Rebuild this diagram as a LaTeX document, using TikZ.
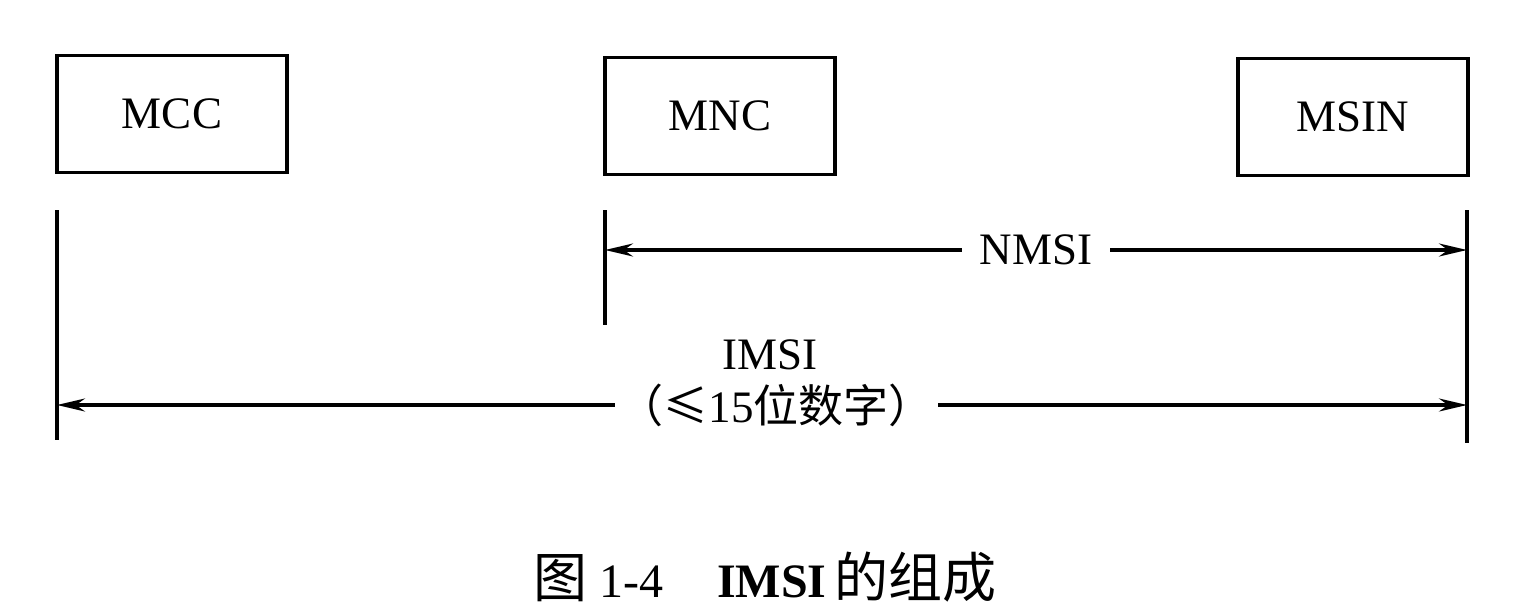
\documentclass[tikz,border=0pt]{standalone}
\usepackage{fontspec}
\setmainfont{Liberation Serif}
\newfontfamily\cjk{Noto Sans CJK SC}
\usetikzlibrary{arrows.meta}
\tikzset{
    field-box/.style = {draw, line width=3.5pt, rectangle, minimum width=230pt, minimum height=117pt, font=\fontsize{45}{50}\selectfont},
    limit-line/.style = {line width=3.2pt},
    span-arrow/.style = {line width=3.2pt, {Stealth[length=28pt,width=13pt]}-{Stealth[length=28pt,width=13pt]}},
    span-label/.style = {fill=white, inner xsep=18pt, inner ysep=2pt, font=\fontsize{45}{50}\selectfont},
}

\begin{document}
\begin{tikzpicture}[x=1pt, y=-1pt]
\useasboundingbox (0,0) rectangle (1536,615);
% the three fields
\node [field-box] (mcc) at (172,114) {MCC};
\node [field-box] (mnc) at (720,116) {MNC};
\node [field-box] (msin) at (1353,117) {MSIN};

% limits of the spans
\coordinate (mcc-top) at (57,210);
\coordinate (mcc-bottom) at (57,440);
\coordinate (mnc-top) at (605,210);
\coordinate (mnc-bottom) at (605,325);
\coordinate (msin-top) at (1467,210);
\coordinate (msin-bottom) at (1467,443);
\draw [limit-line] (mcc-top) -- (mcc-bottom);
\draw [limit-line] (mnc-top) -- (mnc-bottom);
\draw [limit-line] (msin-top) -- (msin-bottom);

% NMSI and IMSI spans
\coordinate (nmsi-left) at (605,250);
\coordinate (nmsi-right) at (1467,250);
\draw [span-arrow] (nmsi-left) -- node [span-label] (nmsi) {NMSI} (nmsi-right);

\coordinate (imsi-left) at (57,405);
\coordinate (imsi-right) at (1467,405);
\draw [span-arrow] (imsi-left) -- node [span-label, pos=0.51, inner xsep=4pt] (imsi-range)
    {{\cjk （≤}15{\cjk 位数字）}} (imsi-right);
\node [font=\fontsize{45}{50}\selectfont] (imsi) at (770,355) {IMSI};

% caption
\node [font=\fontsize{48}{54}\selectfont] (caption) at (765,577)
    {{\cjk\fontsize{54}{60}\selectfont 图}\ 1-4\hspace{54pt}\textbf{IMSI}\,{\cjk\fontsize{54}{60}\selectfont 的组成}};
\end{tikzpicture}
\end{document}
